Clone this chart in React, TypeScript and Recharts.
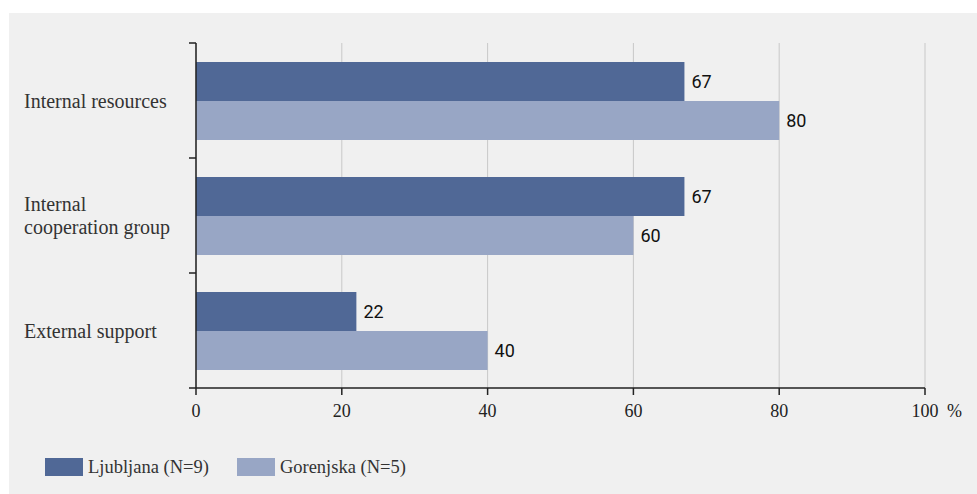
import React from 'react';
import { BarChart, Bar, XAxis, YAxis, CartesianGrid, LabelList, Legend } from 'recharts';

const categories = ['Internal resources', 'Internal\ncooperation group', 'External support'];
const ljubljana = [67, 67, 22];
const gorenjska = [80, 60, 40];
const seriesNames = ['Ljubljana (N=9)', 'Gorenjska (N=5)'];
const xTicks = [0, 20, 40, 60, 80, 100];

const data = categories.map((c, i) => ({ cat: c, lj: ljubljana[i], go: gorenjska[i] }));

const DARK = '#506896';
const LIGHT = '#98a6c5';
const AXIS = '#222';
const SERIF = '"Liberation Serif", "DejaVu Serif", serif';
const SANS = 'Roboto, "Liberation Sans", sans-serif';

const CatTick = (props: any) => {
  const { x, y, payload, index } = props;
  const lines = String(payload.value).split('\n');
  const lh = 23;
  const half = typeof payload.offset === 'number' && payload.offset > 0 ? payload.offset : 57.5;
  const start = y - ((lines.length - 1) * lh) / 2;
  const last = index === categories.length - 1;
  return (
    <g>
      <line x1={x} x2={x + 7} y1={y - half} y2={y - half} stroke={AXIS} strokeWidth={1.5} />
      {last && <line x1={x} x2={x + 7} y1={y + half} y2={y + half} stroke={AXIS} strokeWidth={1.5} />}
      {lines.map((l, i) => (
        <text key={i} x={24} y={start + i * lh} dy="0.35em" textAnchor="start" fontFamily={SERIF} fontSize={20} fill="#333">
          {l}
        </text>
      ))}
    </g>
  );
};

const XTick = (props: any) => {
  const { x, y, payload } = props;
  const last = payload.value === xTicks[xTicks.length - 1];
  return (
    <g>
      <text x={x} y={y} dy="0.71em" textAnchor="middle" fontFamily={SERIF} fontSize={18} fill="#222">
        {payload.value}
      </text>
      {last && (
        <text x={x + 22} y={y} dy="0.71em" textAnchor="start" fontFamily={SERIF} fontSize={18} fill="#222">
          %
        </text>
      )}
    </g>
  );
};

const LegendContent = (props: any) => {
  const payload = [...(props.payload || [])].sort(
    (a: any, b: any) => seriesNames.indexOf(a.value) - seriesNames.indexOf(b.value)
  );
  return (
    <div style={{ display: 'flex', alignItems: 'center' }}>
      {payload.map((p: any, i: number) => (
        <div key={i} style={{ display: 'flex', alignItems: 'center', marginRight: 28 }}>
          <div style={{ width: 38, height: 18, background: p.color, marginRight: 5 }} />
          <span style={{ fontFamily: SERIF, fontSize: 18.5, color: '#333', lineHeight: '18px' }}>{p.value}</span>
        </div>
      ))}
    </div>
  );
};

export default function App() {
  return (
    <div style={{ position: 'fixed', left: 0, top: 0, width: 977, height: 494, background: '#ffffff', overflow: 'hidden' }}>
      <div style={{ position: 'absolute', left: 9, top: 13, right: 0, bottom: 0, background: '#f0f0f0' }} />
      <div style={{ position: 'absolute', left: 0, top: 0 }}>
        <BarChart
          width={977}
          height={494}
          data={data}
          layout="vertical"
          margin={{ top: 43, right: 52, bottom: 76, left: 0 }}
          barCategoryGap={19}
          barGap={0}
        >
          <CartesianGrid horizontal={false} vertical={true} stroke="#c8c8c8" strokeWidth={1} />
          <XAxis
            type="number"
            domain={[0, 100]}
            ticks={xTicks}
            height={30}
            tickSize={7}
            tickMargin={9}
            axisLine={{ stroke: AXIS, strokeWidth: 1.5 }}
            tickLine={{ stroke: AXIS, strokeWidth: 1.5 }}
            tick={<XTick />}
            interval={0}
          />
          <YAxis
            type="category"
            dataKey="cat"
            width={196}
            tickSize={7}
            tickMargin={0}
            axisLine={{ stroke: AXIS, strokeWidth: 1.5 }}
            tickLine={false}
            tick={<CatTick />}
            interval={0}
          />
          <Legend
            layout="horizontal"
            verticalAlign="middle"
            align="center"
            content={<LegendContent />}
            wrapperStyle={{ position: 'absolute', left: 45, top: 458, width: 600, height: 18 }}
          />
          <Bar dataKey="lj" name={seriesNames[0]} fill={DARK} isAnimationActive={false}>
            <LabelList dataKey="lj" position="right" offset={7} fontFamily={SANS} fontSize={18} fill="#111" />
          </Bar>
          <Bar dataKey="go" name={seriesNames[1]} fill={LIGHT} isAnimationActive={false}>
            <LabelList dataKey="go" position="right" offset={7} fontFamily={SANS} fontSize={18} fill="#111" />
          </Bar>
        </BarChart>
      </div>
    </div>
  );
}
